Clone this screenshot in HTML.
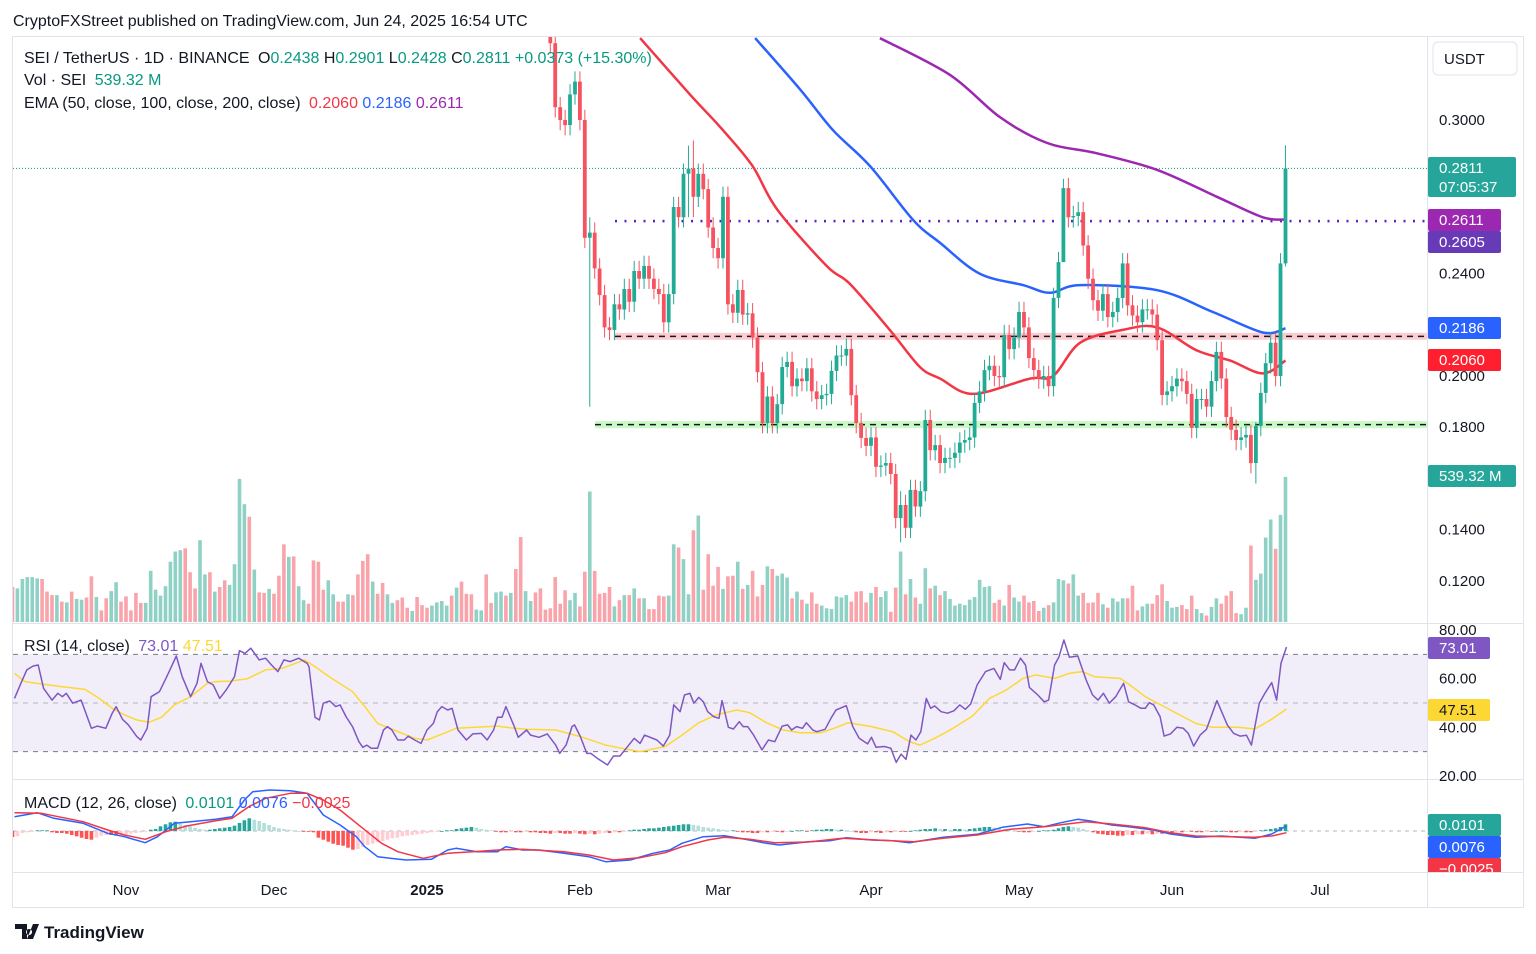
<!DOCTYPE html>
<html><head><meta charset="utf-8"><style>
html,body{margin:0;padding:0;background:#fff;width:1536px;height:954px;overflow:hidden}
svg{display:block;font-family:"Liberation Sans",sans-serif}
</style></head><body>
<svg id="c" width="1536" height="954" viewBox="0 0 1536 954">
<defs>
<clipPath id="pp"><rect x="13" y="37" width="1414" height="586"/></clipPath>
<clipPath id="rp"><rect x="13" y="624" width="1414" height="155"/></clipPath>
<clipPath id="mp"><rect x="13" y="780" width="1414" height="92"/></clipPath>
<clipPath id="tp"><rect x="1428" y="780" width="100" height="92"/></clipPath>
</defs>
<text x="13" y="26" font-size="16" fill="#131722">CryptoFXStreet published on TradingView.com, Jun 24, 2025 16:54 UTC</text>
<rect x="12.5" y="36.5" width="1511" height="871" fill="none" stroke="#e0e3eb"/>
<line x1="1427.5" y1="37" x2="1427.5" y2="907" stroke="#e0e3eb"/>
<line x1="13" y1="623.5" x2="1523" y2="623.5" stroke="#e0e3eb"/>
<line x1="13" y1="779.5" x2="1523" y2="779.5" stroke="#e0e3eb"/>
<line x1="13" y1="872.5" x2="1523" y2="872.5" stroke="#e0e3eb"/>
<g id="vol" clip-path="url(#pp)"></g>
<g id="lev" clip-path="url(#pp)"></g>
<g id="ema" clip-path="url(#pp)"></g>
<g id="cdl" clip-path="url(#pp)"></g>
<g id="rsi" clip-path="url(#rp)"></g>
<g id="macd" clip-path="url(#mp)"></g>
<g id="axes"></g>
<g font-size="16">
<text x="24" y="63" fill="#131722">SEI / TetherUS · 1D · BINANCE <tspan dx="4">O</tspan><tspan fill="#089981">0.2438</tspan> <tspan>H</tspan><tspan fill="#089981">0.2901</tspan> <tspan>L</tspan><tspan fill="#089981">0.2428</tspan> <tspan>C</tspan><tspan fill="#089981">0.2811 +0.0373 (+15.30%)</tspan></text>
<text x="24" y="85" fill="#131722">Vol · SEI <tspan fill="#089981" dx="4">539.32 M</tspan></text>
<text x="24" y="108" fill="#131722">EMA (50, close, 100, close, 200, close) <tspan fill="#f23645" dx="4">0.2060</tspan> <tspan fill="#2962ff">0.2186</tspan> <tspan fill="#9c27b0">0.2611</tspan></text>
<text x="24" y="651" fill="#131722">RSI (14, close) <tspan fill="#7e57c2" dx="4">73.01</tspan> <tspan fill="#fdd835">47.51</tspan></text>
<text x="24" y="808" fill="#131722">MACD (12, 26, close) <tspan fill="#089981" dx="4">0.0101</tspan> <tspan fill="#2962ff">0.0076</tspan> <tspan fill="#f23645">−0.0025</tspan></text>
</g>
<g>
<path d="M15 924h12v15h-5v-10h-7z M29 929a3 3 0 1 0 0.1 0z M33 924h6l-6 15h-6z" fill="#131722"/>
<text x="44" y="938" font-size="17" font-weight="bold" fill="#131722">TradingView</text>
</g>
</svg>
<script>
// ---- data ----
const candleStart = 109; // index of Jan 26 (index 0 = Oct 9)
const closes = [0.330,0.305,0.300,0.298,0.310,0.315,0.300,0.254,
0.256,0.242,0.2316,0.219,0.218,0.228,0.226,0.234,0.229,0.241,0.238,0.243,0.238,0.234,0.232,0.221,0.232,0.266,
0.262,0.279,0.281,0.270,0.279,0.273,0.258,0.250,0.246,0.270,0.228,
0.2247,0.2336,0.224,0.2245,0.215,0.2015,0.1816,0.192,0.1816,0.189,0.2035,0.2055,0.196,0.199,0.198,0.203,0.194,0.191,0.1925,0.193,0.202,0.208,0.208,0.2106,0.1925,0.1816,0.1758,0.1727,0.176,0.1645,0.165,0.166,0.1617,0.1445,0.1496,0.1407,0.1555,0.149,0.155,0.1828,
0.171,0.173,0.166,0.168,0.168,0.170,0.174,0.175,0.176,0.1895,0.194,0.2023,0.204,0.200,0.1995,0.216,0.2105,0.215,0.225,0.219,0.207,0.2023,0.199,0.200,0.196,0.2305,0.2445,0.2734,0.262,0.2625,0.264,0.251,0.238,0.2296,0.2255,0.232,0.223,0.225,0.2305,0.244,0.2276,0.2236,0.221,0.226,0.226,0.224,0.214,0.1926,0.194,0.196,0.199,0.198,0.193,0.1797,0.191,0.191,0.188,0.198,0.2094,0.199,0.184,0.179,0.175,0.176,0.177,0.166,0.1805,0.1934,0.205,0.213,0.200,0.244,0.2811];
const firstOpen = 0.34;
const wickIdx = [117,137,138,180,213,252,258];
const wickHigh = [0.262,0.290,0.292,0.155,0.277,0.182,0.2901];
const wickLow = [0.188,0.262,0.262,0.135,0.255,0.158,0.2428];
const volumes = [130,125,160,167,167,162,160,113,100,100,76,73,113,86,83,91,170,93,43,88,115,148,76,95,43,108,71,71,190,120,98,133,224,262,267,274,185,125,304,177,185,113,130,155,138,215,532,438,391,195,110,108,123,105,172,289,242,244,133,81,68,229,224,120,155,103,76,76,103,100,177,227,252,150,105,145,103,71,81,91,53,41,93,63,53,61,73,78,61,98,128,150,105,103,46,43,177,71,110,113,98,108,197,316,115,78,110,125,46,51,167,68,118,81,108,58,187,485,190,105,108,130,58,81,100,100,125,88,88,48,
48,98,95,98,289,277,234,103,341,396,120,252,135,205,123,170,172,224,123,138,190,95,138,207,197,172,180,165,88,113,83,68,110,68,61,51,48,95,91,100,76,113,115,73,108,130,93,115,38,128,262,103,160,91,68,200,125,135,100,115,86,61,68,63,83,93,157,130,133,71,83,61,138,91,76,98,73,78,41,53,63,73,160,155,143,177,98,108,71,73,108,66,53,88,76,88,88,135,43,58,68,68,100,140,78,53,56,63,48,98,48,33,24,56,88,68,98,115,33,29,53,284,157,180,314,381,272,398,539.32];
const volDir = "rgggggrrrgrgrggrrgrrggrrrrrggggggggrrrggrgrrggggrgrrgrrrgrggrrrrggrrgrrrrgrrggrrrgrrrggggrgrrrggrrggrgrrggrrrg";
const ema50Day = [127.2,137.3,144,150,155,165,169.7,177.8,183.9,188,194.7,206.2,210.9,216.4,225,232,240,246.8,253.4,258];
const ema50Val = [0.332,0.31,0.296,0.282,0.265,0.243,0.236,0.218,0.2035,0.199,0.193,0.199,0.2,0.213,0.218,0.219,0.210,0.206,0.201,0.206];
const ema100Day = [150.5,159.6,166.3,173.8,182.5,188,196,204.8,210.3,216.4,232,243.3,253.4,258];
const ema100Val = [0.332,0.312,0.296,0.282,0.261,0.252,0.24,0.2355,0.2325,0.2355,0.2335,0.225,0.217,0.2186];
const ema200Day = [175.8,190,200.2,209.7,219.8,232,244.1,253.4,258];
const ema200Val = [0.332,0.3176,0.301,0.291,0.287,0.2805,0.270,0.262,0.2611];
const rsiDay = [0.4,1.7,2.9,4.2,5.2,6.3,8.0,9.2,10.1,10.9,12.2,13.9,16.0,17.2,18.9,20.2,21.0,22.3,23.5,25.2,26.0,27.3,28.1,29.8,31.1,31.9,33.2,34.4,36.1,37.4,38.2,39.5,40.7,42.0,43.3,45.0,46.0,47.1,48.3,50.0,51.3,52.5,53.8,55.0,56.3,58.0,59.7,60.1,61.3,62.2,63.0,64.3,65.5,66.4,67.6,68.9,70.2,71.0,71.8,72.7,74.0,75.2,76.0,76.9,78.1,79.4,80.2,81.5,82.8,84.0,85.3,86.1,87.0,88.2,89.1,90.3,92.0,93.3,95.0,96.2,97.5,98.3,99.2,100.0,101.7,102.5,104.2,105.0,106.7,108.4,110.1,110.9,112.2,113.4,113.9,115.1,116.4,117.2,118.5,120.6,121.8,123.1,124.4,126.0,
127.2,128.1,130.6,131.9,133.2,134.0,135.3,136.2,137.3,138.1,139.1,140.0,140.9,142.1,143.2,143.8,145.1,146.1,147.3,148.1,149.0,150.2,151.9,153.2,154.5,156.0,157.1,157.9,158.9,160.1,160.9,162.2,163.0,164.7,166.0,166.9,169.0,170.3,171.6,173.3,174.1,175.0,176.7,178.0,179.1,180.1,181.1,182.1,183.1,184.1,185.2,186.1,186.9,188.2,189.5,190.8,192.0,193.1,194.2,195.5,197.2,198.9,200.2,201.0,202.1,203.1,204.3,205.3,206.1,207.8,209.1,210.0,211.2,212.1,213.1,214.2,215.9,217.6,218.9,220.0,221.1,222.3,223.6,225.2,226.2,227.5,228.7,229.6,230.4,231.3,232.6,233.4,234.7,236.0,237.3,238.3,239.4,240.7,242.0,244.1,246.2,247.5,248.8,250.1,251.1,252.7,253.9,255.2,256.2,257.1,258.2];
const rsiVal = [51.9,58.1,63.6,65.2,65.6,56.0,51.2,54.0,52.6,54.0,49.9,51.2,39.6,40.5,39.6,45.8,48.5,43.3,41.0,36.2,34.8,39.6,52.6,54.7,60.1,63.6,69.3,60.8,52.6,58.1,66.3,58.8,57.4,51.9,55.3,60.8,71.5,70.4,72.5,67.7,68.4,65.6,62.9,67.7,67.0,68.4,66.3,64.9,44.1,43.0,49.9,50.8,48.5,49.2,44.4,40.3,34.1,31.8,32.7,31.4,31.4,38.9,40.3,38.9,34.8,34.8,36.4,34.8,33.4,38.9,41.6,46.4,48.5,47.1,47.8,38.9,34.8,37.3,37.5,34.8,38.9,44.1,44.1,48.5,40.3,35.9,38.9,36.8,35.9,37.3,32.7,29.3,32.7,40.3,41.0,36.2,29.3,29.3,27.3,24.5,28.2,28.2,31.4,35.5,
33.4,36.8,34.8,32.3,36.8,49.2,46.4,53.3,54.0,49.9,52.3,50.5,46.4,44.4,43.7,51.0,40.0,39.3,42.3,40.3,40.3,36.8,30.7,34.8,34.1,40.5,41.0,38.9,40.3,39.6,41.9,38.9,38.2,39.2,44.1,47.1,48.9,40.3,35.5,33.2,35.9,31.8,32.1,31.4,25.6,29.0,26.8,36.8,34.8,38.2,51.9,47.8,48.8,46.4,45.8,46.8,49.2,47.4,49.6,57.4,62.9,64.2,59.7,66.6,63.6,63.6,68.4,65.6,56.4,53.3,50.5,51.2,65.6,69.0,75.9,68.8,69.3,59.5,53.3,51.2,54.0,49.9,52.6,58.1,50.5,49.2,47.8,47.8,50.1,49.2,44.4,36.4,37.3,40.0,39.6,37.5,32.3,36.8,39.2,51.0,41.0,37.5,36.4,36.7,32.7,49.9,54.2,58.4,51.2,66.3,73.01];
const rsiMaDay = [0.4,2.5,5.9,10.1,14.7,17.6,20.2,22.7,25.2,27.7,30.2,32.8,36.1,39.5,41.2,44.1,47.5,51.3,54.6,59.2,61.3,64.7,68.9,71.4,74.0,77.3,81.5,84.0,87.4,89.9,98.3,101.7,104.2,110.1,115.1,120.2,124.4,127.2,132.3,135.7,139.1,142.6,146.8,149.4,152.8,156.2,159.6,163.9,166.5,169.4,174.1,178.4,181.8,183.9,186.9,190.3,194.6,198.0,201.4,204.8,207.4,211.2,214.2,216.8,219.3,224.5,226.2,229.6,234.7,239.8,243.2,248.4,251.8,255.2,258.2];
const rsiMaVal = [62.2,58.8,57.8,56.7,55.6,51.9,47.8,45.1,43.0,42.1,44.1,49.2,52.6,58.1,58.8,59.0,59.9,63.6,64.2,67.7,64.9,60.1,54.7,48.5,41.6,38.9,35.5,34.8,37.5,39.6,40.5,39.6,39.2,38.9,36.2,32.7,31.0,30.0,32.1,36.8,41.9,45.1,47.1,46.0,41.9,38.9,37.8,37.8,39.6,41.9,40.3,38.2,34.1,32.7,35.5,39.2,44.7,51.9,55.3,60.1,61.5,60.1,62.2,62.9,60.8,60.1,57.8,52.6,47.1,41.6,40.0,40.0,39.3,43.3,47.51];
const macdDay = [0.4,5.0,8.4,14.3,19.3,22.7,26.9,29.4,32.8,36.1,41.2,44.5,47.0,48.7,52.1,56.3,59.7,63.0,66.4,69.7,71.4,74.0,76.5,79.8,84.9,88.2,89.9,94.1,98.3,100.0,103.4,106.7,111.8,116.8,120.2,125.2,129.8,133.2,135.7,140.0,144.3,148.5,152.8,155.4,161.3,165.6,169.0,174.1,178.4,181.8,185.2,188.6,195.5,200.6,205.7,209.1,212.5,215.9,218.5,222.8,226.2,231.3,234.7,239.8,245.0,251.8,255.2,258.2];
const macdVal = [0.0215,0.0275,0.019,0.0115,-0.0035,-0.0085,-0.0175,-0.0085,0.0115,0.014,0.0175,0.0215,0.0465,0.059,0.0615,0.0605,0.0565,0.024,0.009,-0.0085,-0.0235,-0.0385,-0.041,-0.0435,-0.0425,-0.0285,-0.026,-0.031,-0.031,-0.0235,-0.0285,-0.0285,-0.0335,-0.0385,-0.046,-0.0435,-0.0335,-0.0285,-0.0185,-0.0085,-0.007,-0.0125,-0.0185,-0.021,-0.016,-0.0145,-0.01,-0.0135,-0.0145,-0.0175,-0.0135,-0.0095,-0.005,0.0055,0.0105,0.0065,0.0125,0.0175,0.015,0.009,0.0065,0.0015,-0.0045,-0.0095,-0.0075,-0.011,-0.0045,0.0076];
const signalDay = [0.4,5.9,14.3,19.3,22.7,26.9,31.1,35.3,41.2,44.5,47.9,51.3,56.3,59.7,63.0,66.4,70.6,74.8,78.1,83.2,88.2,93.3,98.3,103.4,111.8,116.8,121.8,127.2,132.3,135.7,140.9,144.3,149.4,154.5,161.3,168.2,175.0,182.7,188.6,195.5,202.3,209.1,217.6,222.8,229.6,234.7,239.8,246.7,251.8,255.2,258.2];
const signalVal = [0.0275,0.0265,0.014,0.0015,-0.006,-0.0125,-0.001,0.0075,0.0155,0.019,0.0365,0.049,0.0565,0.0565,0.0465,0.0315,0.0065,-0.0185,-0.031,-0.041,-0.0335,-0.031,-0.0285,-0.0275,-0.031,-0.036,-0.0435,-0.04,-0.0325,-0.0235,-0.0135,-0.0095,-0.0125,-0.0175,-0.0165,-0.011,-0.0135,-0.016,-0.011,-0.006,0.0025,0.0065,0.014,0.0105,0.005,-0.0025,-0.0075,-0.0085,-0.0095,-0.0075,-0.0025];
const histVal = [-0.009,-0.008,-0.003,-0.002,-0.001,0.001,0.001,0.001,-0.002,-0.003,-0.003,-0.004,-0.006,-0.008,-0.010,-0.012,-0.013,-0.010,-0.007,-0.006,-0.006,-0.007,-0.006,-0.005,-0.004,-0.003,-0.002,-0.001,0.002,0.003,0.007,0.010,0.013,0.014,0.011,0.009,0.007,0.005,0.003,0.002,0.002,0.003,0.004,0.005,0.006,0.008,0.012,0.016,0.019,0.017,0.015,0.012,0.009,0.006,0.004,0.003,0.002,0.001,0.000,-0.001,-0.001,-0.002,-0.010,-0.013,-0.016,-0.019,-0.021,-0.022,-0.025,-0.028,-0.027,-0.024,-0.021,-0.019,-0.017,-0.015,-0.013,-0.011,-0.010,-0.008,-0.007,-0.006,-0.005,-0.004,-0.003,-0.002,-0.001,0.000,0.001,0.001,0.003,0.004,0.005,0.006,0.005,0.003,0.002,0.001,-0.001,-0.002,-0.002,-0.001,-0.002,-0.002,-0.001,-0.002,-0.002,-0.003,-0.003,-0.004,-0.003,-0.003,-0.004,-0.004,-0.003,-0.004,-0.005,-0.004,-0.005,-0.004,-0.003,-0.003,-0.002,-0.002,-0.001,0.001,0.002,0.002,0.003,0.004,0.004,0.005,0.006,0.007,0.008,0.009,0.010,0.010,0.009,0.008,0.006,0.005,0.004,0.003,0.002,0.001,0.001,-0.001,-0.002,-0.002,-0.003,-0.003,-0.002,-0.002,-0.001,-0.001,-0.002,-0.001,0.000,0.001,0.001,-0.001,0.001,0.002,0.002,0.003,0.003,0.002,0.002,0.001,0.000,-0.002,-0.003,-0.003,-0.002,-0.002,-0.003,-0.002,-0.002,-0.001,-0.001,-0.001,0.000,0.001,0.002,0.003,0.003,0.004,0.003,0.003,0.002,0.003,0.003,0.002,0.003,0.004,0.005,0.006,0.006,0.005,0.004,0.003,0.002,0.001,-0.001,-0.002,-0.002,-0.001,0.000,0.001,0.001,0.002,0.004,0.006,0.007,0.006,0.005,0.003,0.001,-0.002,-0.004,-0.005,-0.006,-0.006,-0.007,-0.007,-0.006,-0.006,-0.005,-0.005,-0.004,-0.005,-0.004,-0.004,-0.003,-0.003,-0.002,-0.002,-0.001,-0.001,-0.002,-0.002,-0.001,-0.001,0.000,0.000,-0.001,-0.002,-0.002,-0.001,-0.002,-0.002,-0.001,0.001,0.002,0.003,0.004,0.006,0.0101];
const priceTicks = [0.30,0.24,0.20,0.18,0.14,0.12];
const rsiTicks = [80,60,40,20];
const monthLabels = ["Nov","Dec","2025","Feb","Mar","Apr","May","Jun","Jul"];
const monthDays = [23,53,84,115,143,174,204,235,265];
const resistLevel = 0.2155, supportLevel = 0.1810, dottedLevel = 0.2605, lastPrice = 0.2811;

// ---- scales ----
const NS="http://www.w3.org/2000/svg";
const xOf = i => 12.5 + i*4.934;
const yP = p => 120 + (0.30-p)*2560;
const yV = v => 622 - v*0.269;
const yR = r => 630 + (80-r)*2.433;
const yM = m => 831 - m/0.0015;
function mk(tag, attrs, parent){const e=document.createElementNS(NS,tag);for(const k in attrs)e.setAttribute(k,attrs[k]);parent.appendChild(e);return e;}
const G = id => document.getElementById(id);

// volume
for(let i=0;i<volumes.length;i++){
  let up;
  if(i>=candleStart){const k=i-candleStart;const o=k?closes[k-1]:firstOpen;up=closes[k]>=o;}
  else up=volDir[i]==='g';
  const y=yV(volumes[i]);
  const r=mk('rect',{x:(xOf(i)-1.8).toFixed(1),y:y.toFixed(1),width:3.6,height:(622-y).toFixed(1),fill:up?'rgba(8,153,129,0.45)':'rgba(242,54,69,0.45)'},G('vol'));
  
  
}
// levels
const lev=G('lev');
let e;
e=mk('rect',{x:615,y:yP(resistLevel)-3.5,width:812,height:7,fill:'rgba(242,54,69,0.25)'},lev);


e=mk('line',{x1:615,x2:1427,y1:yP(resistLevel),y2:yP(resistLevel),stroke:'#131722','stroke-width':1.5,'stroke-dasharray':'6 5'},lev);


e=mk('rect',{x:595,y:yP(supportLevel)-3.5,width:832,height:7,fill:'rgba(76,235,60,0.3)'},lev);


e=mk('line',{x1:595,x2:1427,y1:yP(supportLevel),y2:yP(supportLevel),stroke:'#131722','stroke-width':1.5,'stroke-dasharray':'6 5'},lev);


e=mk('line',{x1:615,x2:1427,y1:yP(dottedLevel),y2:yP(dottedLevel),stroke:'#5b1fc4','stroke-width':2.5,'stroke-dasharray':'2 7.5'},lev);


e=mk('line',{x1:13,x2:1427,y1:yP(lastPrice),y2:yP(lastPrice),stroke:'#089981','stroke-width':1,'stroke-dasharray':'1 2'},lev);


// lines
function poly(days,vals,fy,col,w,parent,name){
  const pts=days.map((d,k)=>xOf(d).toFixed(1)+','+fy(vals[k]).toFixed(1)).join(' ');
  const p=mk('polyline',{points:pts,fill:'none',stroke:col,'stroke-width':w,'stroke-linejoin':'round'},parent);
  
  
}
function smooth(days,vals,fy,col,w,parent,name){
  const P=days.map((d,k)=>[xOf(d),fy(vals[k])]);
  let s='M'+P[0][0].toFixed(1)+','+P[0][1].toFixed(1);
  for(let k=0;k<P.length-1;k++){
    const p0=P[Math.max(0,k-1)],p1=P[k],p2=P[k+1],p3=P[Math.min(P.length-1,k+2)];
    const c1=[p1[0]+(p2[0]-p0[0])/6,p1[1]+(p2[1]-p0[1])/6],c2=[p2[0]-(p3[0]-p1[0])/6,p2[1]-(p3[1]-p1[1])/6];
    s+=' C'+c1.map(v=>v.toFixed(1))+' '+c2.map(v=>v.toFixed(1))+' '+p2.map(v=>v.toFixed(1));
  }
  const p=mk('path',{d:s,fill:'none',stroke:col,'stroke-width':w},parent);
  
  
}
smooth(ema200Day,ema200Val,yP,'#9c27b0',2.5,G('ema'),'ema-200');
smooth(ema100Day,ema100Val,yP,'#2962ff',2.5,G('ema'),'ema-100');
smooth(ema50Day,ema50Val,yP,'#f23645',2.5,G('ema'),'ema-50');
// candles
for(let k=0;k<closes.length;k++){
  const i=candleStart+k;const o=k?closes[k-1]:firstOpen;const c=closes[k];
  let hi=Math.max(o,c)+0.004, lo=Math.min(o,c)-0.004;
  const w=wickIdx.indexOf(i); if(w>=0){hi=Math.max(wickHigh[w],Math.max(o,c));lo=Math.min(wickLow[w],Math.min(o,c));}
  const col=c>=o?'#22ab94':'#f7525f';const x=xOf(i);
  const g=mk('g',{},G('cdl'));
  
  
  mk('line',{x1:x,x2:x,y1:yP(hi),y2:yP(lo),stroke:col,'stroke-width':1},g);
  const y1=yP(Math.max(o,c)),y2=yP(Math.min(o,c));
  mk('rect',{x:(x-1.9).toFixed(1),y:y1.toFixed(1),width:3.8,height:Math.max(1,y2-y1).toFixed(1),fill:col},g);
}
// RSI
const rs=G('rsi');
e=mk('rect',{x:13,y:yR(70),width:1414,height:yR(30)-yR(70),fill:'rgba(126,87,194,0.1)'},rs);


[[70,'#787b86'],[50,'#b2b5be'],[30,'#787b86']].forEach(([v,c])=>{
  const l=mk('line',{x1:13,x2:1427,y1:yR(v),y2:yR(v),stroke:c,'stroke-width':1,'stroke-dasharray':'5 5'},rs);
  
  
});
poly(rsiMaDay,rsiMaVal,yR,'#fdd835',1.5,rs,'rsi-ma-line');
poly(rsiDay,rsiVal,yR,'#7e57c2',1.5,rs,'rsi-line');
// MACD
const mc=G('macd');
e=mk('line',{x1:13,x2:1427,y1:yM(0),y2:yM(0),stroke:'#b2b5be','stroke-dasharray':'4 4'},mc);


for(let i=0;i<histVal.length;i++){
  const v=histVal[i],pv=i?histVal[i-1]:0;
  let col;
  if(v>=0) col=v>=pv?'#26a69a':'#b2dfdb'; else col=v<=pv?'#ff5252':'#ffcdd2';
  const y=Math.min(yM(v),yM(0)),h=Math.max(0.8,Math.abs(yM(v)-yM(0)));
  const r=mk('rect',{x:(xOf(i)-1.8).toFixed(1),y:y.toFixed(1),width:3.6,height:h.toFixed(1),fill:col},mc);
  
  
}
poly(macdDay,macdVal,yM,'#2962ff',1.5,mc,'macd-line');
poly(signalDay,signalVal,yM,'#f23645',1.5,mc,'signal-line');
// axes
const ax=G('axes');
function txt(x,y,s,attrs,name,inter){const t=mk('text',Object.assign({x:x,y:y,'font-size':15,fill:'#131722'},attrs||{}),ax);t.textContent=s;return t;}
priceTicks.forEach(p=>txt(1439,yP(p)+5,p.toFixed(4),{},'price-tick'));
rsiTicks.forEach(r=>txt(1439,yR(r)+5,r.toFixed(2),{},'rsi-tick'));
monthLabels.forEach((m,k)=>txt(xOf(monthDays[k]),895,m,{'text-anchor':'middle','font-weight':m==='2025'?'bold':'normal'},'time-tick'));
function tag(y1,h,w,bg,lines,name,fg){
  const g=mk('g',{'clip-path':y1>850?'url(#tp)':''},ax);
  
  
  mk('rect',{x:1428,y:y1,width:w,height:h,rx:2,fill:bg},g);
  lines.forEach((s,k)=>{const t=mk('text',{x:1439,y:y1+16+k*19,'font-size':15,fill:fg||'#fff'},g);t.textContent=s;});
}
const u=mk('rect',{x:1433,y:42,width:84,height:33,rx:5,fill:'#fff',stroke:'#e0e3eb'},ax);


txt(1444,64,'USDT',{},'currency-label',true);
tag(157,40,88,'#26a69a',['0.2811','07:05:37'],'last-price-tag');
tag(209,22,73,'#9c27b0',['0.2611'],'ema200-tag');
tag(231,22,73,'#673ab7',['0.2605'],'level-tag');
tag(317,22,73,'#2962ff',['0.2186'],'ema100-tag');
tag(349,22,73,'#ff1f2e',['0.2060'],'ema50-tag');
tag(465,22,88,'#26a69a',['539.32 M'],'volume-tag');
tag(637,22,62,'#7e57c2',['73.01'],'rsi-tag');
tag(699,22,62,'#fdd835',['47.51'],'rsi-ma-tag','#131722');
tag(814,22,73,'#26a69a',['0.0101'],'histogram-tag');
tag(836,22,73,'#2962ff',['0.0076'],'macd-tag');
tag(858,22,73,'#f23645',['−0.0025'],'signal-tag');
</script>
</body></html>
